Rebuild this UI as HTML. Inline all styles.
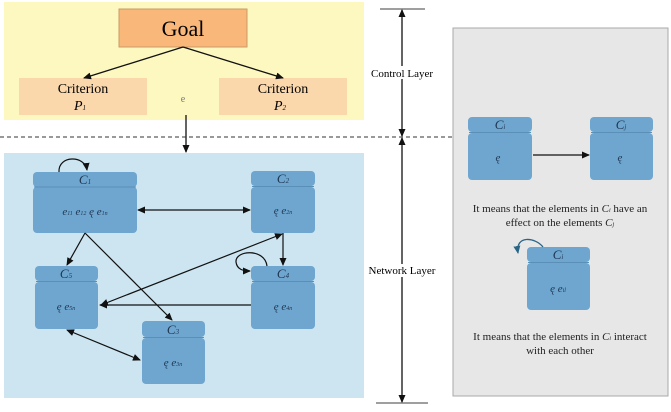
<!DOCTYPE html>
<html><head><style>
body{margin:0;background:#fff;}
svg{display:block;font-family:"Liberation Serif",serif;}
</style></head><body>
<svg width="671" height="412" viewBox="0 0 671 412">
<defs>
<marker id="a" markerWidth="8" markerHeight="8" refX="7" refY="4" orient="auto-start-reverse" markerUnits="userSpaceOnUse"><path d="M0,0.5 L8,4 L0,7.5z" fill="#111"/></marker>
<marker id="b" markerWidth="8" markerHeight="8" refX="7" refY="4" orient="auto" markerUnits="userSpaceOnUse"><path d="M0,0.5 L8,4 L0,7.5z" fill="#2a6585"/></marker>
</defs>
<rect x="4" y="2" width="360" height="118" fill="#fdf8bf"/>
<rect x="4" y="153" width="360" height="245" fill="#cce5f0"/>
<rect x="453" y="28" width="215" height="368" fill="#e7e7e7" stroke="#aaa" stroke-width="1"/>
<!-- control layer -->
<rect x="119" y="9" width="128" height="38" fill="#f9b779" stroke="#c99a66"/>
<text x="183" y="36" font-size="22" text-anchor="middle">Goal</text>
<rect x="19" y="78" width="128" height="37" fill="#fbd8ac"/>
<rect x="219" y="78" width="128" height="37" fill="#fbd8ac"/>
<text x="83" y="93" font-size="14" text-anchor="middle">Criterion</text>
<text x="80" y="110" font-size="14" font-style="italic" text-anchor="middle">P<tspan font-size="7">1</tspan></text>
<text x="283" y="93" font-size="14" text-anchor="middle">Criterion</text>
<text x="280" y="110" font-size="14" font-style="italic" text-anchor="middle">P<tspan font-size="7">2</tspan></text>
<text x="183" y="102" font-size="10" fill="#777" text-anchor="middle">e</text>
<g stroke="#111" stroke-width="1.3" fill="none">
<line x1="183" y1="47" x2="84" y2="78" marker-end="url(#a)"/>
<line x1="183" y1="47" x2="283" y2="78" marker-end="url(#a)"/>
<line x1="186" y1="115" x2="186" y2="152" marker-end="url(#a)"/>
</g>
<line x1="0" y1="137" x2="452" y2="137" stroke="#333" stroke-dasharray="4,3"/>
<!-- layer arrows -->
<g stroke="#111" stroke-width="1.3">
<line x1="380" y1="9" x2="425" y2="9" stroke="#666"/>
<line x1="376" y1="403" x2="428" y2="403" stroke="#666"/>
<line x1="402" y1="10" x2="402" y2="136" marker-start="url(#a)" marker-end="url(#a)"/>
<line x1="402" y1="138" x2="402" y2="402" marker-start="url(#a)" marker-end="url(#a)"/>
</g>
<rect x="370" y="66" width="64" height="13" fill="#fff"/>
<text x="402" y="77" font-size="11" text-anchor="middle">Control Layer</text>
<rect x="368" y="264" width="68" height="13" fill="#fff"/>
<text x="402" y="274" font-size="11" text-anchor="middle">Network Layer</text>
<!-- nodes -->
<g fill="#6ea6cf">
<rect x="33" y="172" width="104" height="15" rx="4"/><rect x="33" y="187" width="104" height="46" rx="4"/>
<rect x="251" y="171" width="64" height="15" rx="4"/><rect x="251" y="187" width="64" height="46" rx="4"/>
<rect x="35" y="266" width="63" height="15" rx="4"/><rect x="35" y="282" width="63" height="47" rx="4"/>
<rect x="251" y="266" width="64" height="15" rx="4"/><rect x="251" y="282" width="64" height="47" rx="4"/>
<rect x="142" y="321" width="63" height="16" rx="4"/><rect x="142" y="338" width="63" height="46" rx="4"/>
<rect x="468" y="117" width="64" height="15" rx="4"/><rect x="468" y="133" width="64" height="47" rx="4"/>
<rect x="590" y="117" width="63" height="15" rx="4"/><rect x="590" y="133" width="63" height="47" rx="4"/>
<rect x="527" y="247" width="63" height="15" rx="4"/><rect x="527" y="263" width="63" height="47" rx="4"/>
</g>
<g stroke="#5a8fb8" stroke-width="1">
<line x1="34" y1="187" x2="136" y2="187"/><line x1="252" y1="186.5" x2="314" y2="186.5"/>
<line x1="36" y1="281.5" x2="97" y2="281.5"/><line x1="252" y1="281.5" x2="314" y2="281.5"/>
<line x1="143" y1="337.5" x2="204" y2="337.5"/><line x1="469" y1="132.5" x2="531" y2="132.5"/>
<line x1="591" y1="132.5" x2="652" y2="132.5"/><line x1="528" y1="262.5" x2="589" y2="262.5"/>
</g>
<g font-size="13" font-style="italic" fill="#1f3550" text-anchor="middle">
<text x="85" y="184">C<tspan font-size="7">1</tspan></text>
<text x="283" y="183">C<tspan font-size="7">2</tspan></text>
<text x="66" y="278">C<tspan font-size="7">5</tspan></text>
<text x="283" y="278">C<tspan font-size="7">4</tspan></text>
<text x="173" y="334">C<tspan font-size="7">3</tspan></text>
<text x="500" y="129">C<tspan font-size="7">i</tspan></text>
<text x="621" y="129">C<tspan font-size="7">j</tspan></text>
<text x="558" y="259">C<tspan font-size="7">i</tspan></text>
</g>
<g font-size="11" font-style="italic" fill="#1f3550" text-anchor="middle">
<text x="85" y="215">e<tspan font-size="6">11</tspan> e<tspan font-size="6">12</tspan> ę  e<tspan font-size="6">1n</tspan></text>
<text x="283" y="214">ę  e<tspan font-size="6">2n</tspan></text>
<text x="66" y="310">ę  e<tspan font-size="6">5n</tspan></text>
<text x="283" y="310">ę  e<tspan font-size="6">4n</tspan></text>
<text x="173" y="366">ę  e<tspan font-size="6">3n</tspan></text>
<text x="498" y="161">ę</text>
<text x="620" y="161">ę</text>
<text x="558" y="292">ę  e<tspan font-size="6">il</tspan></text>
</g>
<!-- network arrows -->
<g stroke="#111" stroke-width="1.2" fill="none">
<line x1="138" y1="210" x2="250" y2="210" marker-start="url(#a)" marker-end="url(#a)"/>
<line x1="85" y1="233" x2="67" y2="265" marker-end="url(#a)"/>
<line x1="85" y1="233" x2="172" y2="320" marker-end="url(#a)"/>
<line x1="283" y1="233" x2="283" y2="265" marker-end="url(#a)"/>
<line x1="251" y1="305" x2="100" y2="305" marker-end="url(#a)"/>
<line x1="101" y1="305" x2="282" y2="234" marker-start="url(#a)" marker-end="url(#a)"/>
<line x1="67" y1="330" x2="140" y2="360" marker-start="url(#a)" marker-end="url(#a)"/>
<path d="M59,172 C58,155 85,155 87,170" marker-end="url(#a)"/>
<path d="M267,266 C265,248 235,250 236,262 C237,270 244,271 250,271" marker-end="url(#a)"/>
<line x1="533" y1="155" x2="589" y2="155" marker-end="url(#a)"/>
</g>
<path d="M543,247 C535,237 515,235 518,253" stroke="#2a6585" stroke-width="1.3" fill="none" marker-end="url(#b)"/>
<g font-size="11" text-anchor="middle" fill="#222">
<text x="560" y="212">It means that the elements in <tspan font-style="italic">C<tspan font-size="6">i</tspan></tspan> have an</text>
<text x="560" y="226">effect on the elements <tspan font-style="italic">C<tspan font-size="6">j</tspan></tspan></text>
<text x="560" y="340">It means that the elements in <tspan font-style="italic">C<tspan font-size="6">i</tspan></tspan> interact</text>
<text x="560" y="354">with each other</text>
</g>
</svg>
</body></html>
